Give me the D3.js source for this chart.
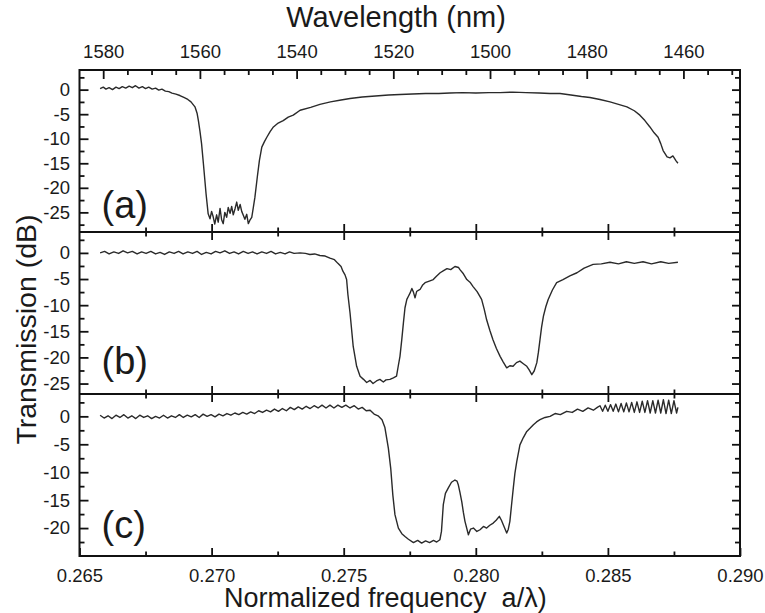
<!DOCTYPE html>
<html>
<head>
<meta charset="utf-8">
<script src="https://cdn.jsdelivr.net/npm/d3@7"></script>
<style>
  body { margin: 0; background: #fff; }
  svg text { font-family: "Liberation Sans", Arial, sans-serif; fill: #1a1a1a; }
</style>
</head>
<body>
<svg id="chart" width="765" height="613"></svg>
<script>
// tick values
var freqMajor = [0.265, 0.270, 0.275, 0.280, 0.285, 0.290];
var freqMinor = [0.2675, 0.2725, 0.2775, 0.2825, 0.2875];
var waveMajor = [1580, 1560, 1540, 1520, 1500, 1480, 1460];
var waveMinor = [1575, 1570, 1565, 1555, 1550, 1545, 1535, 1530, 1525, 1515, 1510, 1505,
                 1495, 1490, 1485, 1475, 1470, 1465, 1455, 1450];
var dbMajor = [0, -5, -10, -15, -20, -25];
var dbMinor = [2.5, -2.5, -7.5, -12.5, -17.5, -22.5, -27.5];

// transmission traces [normalized frequency, dB]
var transA = [
  [0.26578, 0.2], [0.26590, 0.5], [0.26600, 0.1], [0.26612, 0.4], [0.26625, 0.0], [0.26638, 0.5],
  [0.26650, 0.2], [0.26662, 0.6], [0.26675, 0.3], [0.26688, 0.7], [0.26700, 0.4], [0.26712, 0.8],
  [0.26725, 0.3], [0.26738, 0.6], [0.26750, 0.2], [0.26762, 0.5], [0.26775, 0.1], [0.26788, 0.3],
  [0.26800, -0.1], [0.26812, 0.1], [0.26825, -0.3], [0.26838, -0.4], [0.26850, -0.7], [0.26865, -0.9],
  [0.26880, -1.2], [0.26895, -1.6], [0.26910, -2.0], [0.26922, -2.5], [0.26937, -3.5], [0.26945, -4.8],
  [0.26950, -6.3], [0.26956, -8.5], [0.26962, -11.0], [0.26969, -15.1], [0.26979, -21.2], [0.26987, -25.3],
  [0.26994, -26.3], [0.27000, -24.8], [0.27006, -25.9], [0.27012, -27.4], [0.27019, -25.5], [0.27025, -27.0],
  [0.27032, -24.2], [0.27038, -26.5], [0.27044, -27.3], [0.27050, -25.0], [0.27057, -26.0], [0.27063, -24.0],
  [0.27070, -25.2], [0.27076, -23.8], [0.27082, -25.5], [0.27089, -24.2], [0.27095, -22.9], [0.27101, -24.6],
  [0.27108, -23.4], [0.27114, -24.8], [0.27120, -25.6], [0.27126, -26.4], [0.27133, -25.4], [0.27139, -27.3],
  [0.27145, -26.6], [0.27152, -26.0], [0.27158, -24.0], [0.27164, -21.9], [0.27173, -17.8], [0.27181, -14.4],
  [0.27190, -11.7], [0.27200, -10.6], [0.27209, -9.7], [0.27222, -8.5], [0.27234, -7.6], [0.27252, -6.8],
  [0.27271, -6.3], [0.27290, -5.6], [0.27309, -5.2], [0.27335, -4.2], [0.27375, -3.6], [0.27410, -3.0],
  [0.27450, -2.5], [0.27490, -2.1], [0.27524, -1.8], [0.27570, -1.5], [0.27620, -1.3], [0.27670, -1.1],
  [0.27713, -1.0], [0.27760, -0.9], [0.27810, -0.8], [0.27860, -0.8], [0.27902, -0.7], [0.27950, -0.6],
  [0.28000, -0.7], [0.28050, -0.6], [0.28092, -0.6], [0.28140, -0.5], [0.28190, -0.6], [0.28240, -0.7],
  [0.28281, -0.8], [0.28319, -0.8], [0.28360, -1.1], [0.28400, -1.4], [0.28432, -1.6], [0.28470, -2.0],
  [0.28508, -2.5], [0.28540, -3.0], [0.28572, -3.5], [0.28600, -4.3], [0.28621, -5.2], [0.28640, -6.3],
  [0.28659, -7.6], [0.28675, -8.8], [0.28690, -9.7], [0.28700, -11.0], [0.28709, -12.4], [0.28724, -13.7],
  [0.28735, -13.9], [0.28746, -13.5], [0.28758, -14.5], [0.28765, -15.0]
];

var transB = [
  [0.26578, 0.0], [0.26595, 0.3], [0.26612, -0.2], [0.26630, 0.2], [0.26648, -0.1], [0.26665, 0.4],
  [0.26682, 0.0], [0.26700, 0.3], [0.26718, -0.2], [0.26735, 0.2], [0.26752, -0.1], [0.26770, 0.3],
  [0.26788, -0.2], [0.26805, 0.1], [0.26822, -0.3], [0.26840, 0.2], [0.26858, -0.1], [0.26875, 0.3],
  [0.26892, -0.2], [0.26910, 0.2], [0.26928, -0.1], [0.26945, 0.3], [0.26962, -0.3], [0.26980, 0.1],
  [0.26998, -0.2], [0.27015, 0.3], [0.27032, 0.0], [0.27050, 0.4], [0.27068, -0.1], [0.27085, 0.2],
  [0.27102, -0.2], [0.27120, 0.3], [0.27138, -0.1], [0.27155, 0.2], [0.27172, -0.2], [0.27190, 0.2],
  [0.27208, -0.1], [0.27225, 0.3], [0.27242, -0.2], [0.27260, 0.1], [0.27278, -0.2], [0.27295, 0.2],
  [0.27312, -0.1], [0.27335, 0.0], [0.27355, -0.1], [0.27372, -0.3], [0.27390, -0.2], [0.27410, -0.5],
  [0.27430, -0.6], [0.27448, -1.0], [0.27465, -1.3], [0.27478, -2.0], [0.27490, -2.6], [0.27497, -3.5],
  [0.27505, -4.2], [0.27511, -5.1], [0.27516, -8.0], [0.27524, -11.5], [0.27536, -17.9], [0.27549, -21.7],
  [0.27562, -23.6], [0.27575, -24.2], [0.27587, -24.8], [0.27600, -24.4], [0.27611, -25.0], [0.27624, -24.5],
  [0.27637, -24.2], [0.27650, -24.7], [0.27660, -24.3], [0.27675, -24.2], [0.27688, -23.9], [0.27700, -23.6],
  [0.27707, -21.5], [0.27713, -19.8], [0.27720, -16.5], [0.27726, -13.4], [0.27732, -10.5], [0.27739, -8.9],
  [0.27745, -8.3], [0.27751, -7.7], [0.27758, -6.8], [0.27764, -7.5], [0.27770, -8.6], [0.27776, -7.4],
  [0.27781, -7.2], [0.27789, -7.0], [0.27798, -6.2], [0.27808, -5.7], [0.27824, -5.4], [0.27839, -5.1],
  [0.27852, -4.4], [0.27865, -3.8], [0.27878, -3.4], [0.27891, -3.0], [0.27905, -3.2], [0.27921, -2.6],
  [0.27935, -2.8], [0.27940, -3.2], [0.27953, -4.0], [0.27966, -5.1], [0.27978, -5.6], [0.27989, -6.4],
  [0.28005, -7.4], [0.28022, -8.9], [0.28032, -10.8], [0.28041, -12.8], [0.28053, -14.8], [0.28065, -16.6],
  [0.28078, -18.3], [0.28092, -19.8], [0.28104, -20.9], [0.28117, -22.0], [0.28129, -21.6], [0.28141, -21.7],
  [0.28154, -21.0], [0.28167, -20.7], [0.28180, -21.2], [0.28193, -21.7], [0.28202, -22.4], [0.28212, -23.3],
  [0.28221, -22.6], [0.28231, -21.0], [0.28237, -19.0], [0.28243, -16.6], [0.28249, -14.2], [0.28256, -12.1],
  [0.28265, -10.3], [0.28274, -8.9], [0.28290, -7.1], [0.28306, -5.7], [0.28330, -5.1], [0.28356, -4.4],
  [0.28383, -3.8], [0.28410, -2.9], [0.28444, -2.2], [0.28475, -2.1], [0.28508, -1.8], [0.28540, -2.1],
  [0.28570, -1.7], [0.28600, -2.0], [0.28633, -1.7], [0.28665, -2.1], [0.28700, -1.7], [0.28730, -2.0],
  [0.28765, -1.8]
];

var transC = [
  [0.26578, 0.2], [0.26593, -0.3], [0.26608, 0.1], [0.26623, -0.4], [0.26638, 0.2], [0.26653, -0.2],
  [0.26668, 0.3], [0.26683, -0.3], [0.26698, 0.1], [0.26713, -0.4], [0.26728, 0.2], [0.26743, -0.2],
  [0.26758, 0.1], [0.26773, -0.4], [0.26788, 0.0], [0.26803, -0.3], [0.26818, 0.2], [0.26833, -0.3],
  [0.26848, 0.1], [0.26863, -0.2], [0.26878, 0.3], [0.26893, -0.2], [0.26908, 0.2], [0.26923, -0.1],
  [0.26938, 0.3], [0.26953, -0.2], [0.26968, 0.4], [0.26983, 0.0], [0.26998, 0.3], [0.27013, -0.1],
  [0.27028, 0.4], [0.27043, 0.1], [0.27058, 0.5], [0.27073, 0.2], [0.27088, 0.6], [0.27103, 0.3],
  [0.27118, 0.7], [0.27133, 0.4], [0.27148, 0.8], [0.27163, 0.5], [0.27178, 1.0], [0.27193, 0.7],
  [0.27208, 1.1], [0.27223, 0.8], [0.27238, 1.3], [0.27253, 0.9], [0.27268, 1.4], [0.27283, 1.0],
  [0.27298, 1.6], [0.27313, 1.2], [0.27328, 1.7], [0.27343, 1.3], [0.27358, 1.8], [0.27373, 1.4],
  [0.27388, 1.9], [0.27403, 1.5], [0.27418, 2.0], [0.27433, 1.5], [0.27448, 2.0], [0.27463, 1.5],
  [0.27478, 2.0], [0.27493, 1.6], [0.27508, 2.0], [0.27524, 1.5], [0.27540, 1.9], [0.27555, 1.3],
  [0.27570, 1.6], [0.27585, 1.0], [0.27600, 1.1], [0.27615, 0.4], [0.27630, 0.1], [0.27645, -0.6],
  [0.27656, -2.0], [0.27669, -5.7], [0.27678, -9.3], [0.27686, -14.1], [0.27694, -17.6], [0.27707, -20.0],
  [0.27720, -21.0], [0.27732, -21.5], [0.27745, -22.0], [0.27764, -22.6], [0.27780, -22.2], [0.27795, -22.7],
  [0.27810, -22.3], [0.27825, -22.6], [0.27840, -22.2], [0.27852, -22.5], [0.27864, -22.1], [0.27870, -20.6],
  [0.27877, -15.8], [0.27885, -13.8], [0.27896, -12.8], [0.27908, -11.8], [0.27921, -11.4], [0.27929, -11.6],
  [0.27934, -12.3], [0.27940, -13.6], [0.27947, -15.3], [0.27953, -17.2], [0.27959, -18.8], [0.27972, -21.2],
  [0.27980, -20.2], [0.27991, -20.0], [0.28004, -20.6], [0.28016, -20.3], [0.28029, -19.7], [0.28041, -20.0],
  [0.28053, -19.5], [0.28066, -19.1], [0.28077, -18.6], [0.28089, -17.9], [0.28097, -18.6], [0.28104, -19.4],
  [0.28117, -20.9], [0.28123, -20.2], [0.28129, -18.8], [0.28135, -16.0], [0.28142, -12.8], [0.28148, -10.2],
  [0.28155, -8.1], [0.28167, -5.1], [0.28180, -3.8], [0.28193, -2.7], [0.28206, -2.1], [0.28218, -1.5],
  [0.28230, -1.0], [0.28243, -0.6], [0.28262, -0.2], [0.28281, 0.0], [0.28300, 0.5], [0.28320, 0.3],
  [0.28344, 0.9], [0.28365, 0.7], [0.28385, 1.3], [0.28405, 0.9], [0.28425, 1.5], [0.28445, 1.1],
  [0.28460, 1.6], [0.28470, 1.9], [0.28480, 0.9], [0.28490, 2.0], [0.28500, 0.9], [0.28510, 2.1],
  [0.28520, 0.9], [0.28530, 2.2], [0.28540, 0.8], [0.28550, 2.3], [0.28560, 0.8], [0.28570, 2.4],
  [0.28580, 0.8], [0.28590, 2.5], [0.28600, 0.7], [0.28610, 2.6], [0.28620, 0.7], [0.28630, 2.7],
  [0.28640, 0.7], [0.28650, 2.8], [0.28660, 0.6], [0.28670, 2.8], [0.28680, 0.6], [0.28690, 2.9],
  [0.28700, 0.6], [0.28710, 3.0], [0.28720, 0.5], [0.28730, 2.9], [0.28740, 0.5], [0.28750, 2.8],
  [0.28760, 0.6], [0.28765, 1.6]
];

var panelLabels = ["(a)", "(b)", "(c)"];
var panelRanges = [[-29, 4], [-27, 4], [-25, 4]];

var plotLeft = 79.5, plotRight = 740, plotTop = 70, ph = 162;

var svg = d3.select("#chart");
var x = d3.scaleLinear().domain([0.265, 0.290]).range([plotLeft, plotRight]);
var xw = d3.scaleLinear().domain([1584.9, 1448.3]).range([plotLeft, plotRight]);

function styleAxis(g) {
  g.select(".domain").remove();
  g.selectAll(".tick line").attr("stroke", "#111").attr("stroke-width", 1.8);
  g.selectAll(".tick text").attr("fill", "#1a1a1a").style("font-size", "18.5px")
    .style("font-family", "'Liberation Sans', Arial, sans-serif");
}

var panels = [transA, transB, transC].map(function (d, i) {
  return { data: d, label: panelLabels[i], domain: panelRanges[i], y0: plotTop + i * ph };
});

panels.forEach(function (p, i) {
  var y = d3.scaleLinear().domain(p.domain).range([p.y0 + ph, p.y0]);
  var yMaj = dbMajor.filter(function (v) { return v > p.domain[0] && v < p.domain[1]; });
  var yMin = dbMinor.filter(function (v) { return v > p.domain[0] && v < p.domain[1]; });

  // left axis
  svg.append("g").attr("transform", "translate(" + plotLeft + ",0)")
    .call(d3.axisLeft(y).tickValues(yMaj).tickSize(-9).tickPadding(9.5).tickFormat(function (v) { return String(v); }))
    .call(styleAxis);
  svg.append("g").attr("transform", "translate(" + plotLeft + ",0)")
    .call(d3.axisLeft(y).tickValues(yMin).tickSize(-5).tickFormat(""))
    .call(styleAxis);
  // right axis
  svg.append("g").attr("transform", "translate(" + plotRight + ",0)")
    .call(d3.axisRight(y).tickValues(yMaj).tickSize(-8).tickFormat(""))
    .call(styleAxis);
  svg.append("g").attr("transform", "translate(" + plotRight + ",0)")
    .call(d3.axisRight(y).tickValues(yMin).tickSize(-5).tickFormat(""))
    .call(styleAxis);

  // top edge
  if (i === 0) {
    svg.append("g").attr("transform", "translate(0," + p.y0 + ")")
      .call(d3.axisTop(xw).tickValues(waveMajor).tickSize(-9).tickPadding(11.7).tickFormat(function (v) { return String(v); }))
      .call(styleAxis);
    svg.append("g").attr("transform", "translate(0," + p.y0 + ")")
      .call(d3.axisTop(xw).tickValues(waveMinor).tickSize(-5).tickFormat(""))
      .call(styleAxis);
  } else {
    svg.append("g").attr("transform", "translate(0," + p.y0 + ")")
      .call(d3.axisTop(x).tickValues(freqMajor.slice(1, -1)).tickSize(-8).tickFormat(""))
      .call(styleAxis);
    svg.append("g").attr("transform", "translate(0," + p.y0 + ")")
      .call(d3.axisTop(x).tickValues(freqMinor).tickSize(-4.5).tickFormat(""))
      .call(styleAxis);
  }

  // bottom edge
  var last = i === panels.length - 1;
  svg.append("g").attr("transform", "translate(0," + (p.y0 + ph) + ")")
    .call(d3.axisBottom(x).tickValues(last ? freqMajor : freqMajor.slice(1, -1))
      .tickSize(-8).tickPadding(13)
      .tickFormat(last ? d3.format(".3f") : ""))
    .call(styleAxis);
  svg.append("g").attr("transform", "translate(0," + (p.y0 + ph) + ")")
    .call(d3.axisBottom(x).tickValues(freqMinor).tickSize(-4.5).tickFormat(""))
    .call(styleAxis);

  // trace
  var line = d3.line().x(function (d) { return x(d[0]); }).y(function (d) { return y(d[1]); });
  svg.append("path").datum(p.data)
    .attr("d", line)
    .attr("fill", "none")
    .attr("stroke", "#2a2a2a")
    .attr("stroke-width", 1.4)
    .attr("stroke-linejoin", "round");

  var labelY = [218, 374, 537.5];
  svg.append("text")
    .attr("x", 101.5).attr("y", labelY[i])
    .style("font-size", "38px")
    .text(p.label);
});

// frame and separators
svg.append("rect")
  .attr("x", plotLeft).attr("y", plotTop).attr("width", plotRight - plotLeft).attr("height", ph * 3)
  .attr("fill", "none").attr("stroke", "#111").attr("stroke-width", 2);
[1, 2].forEach(function (k) {
  svg.append("line")
    .attr("x1", plotLeft).attr("x2", plotRight)
    .attr("y1", plotTop + k * ph).attr("y2", plotTop + k * ph)
    .attr("stroke", "#111").attr("stroke-width", 2);
});

// titles
svg.append("text")
  .attr("x", 396).attr("y", 27)
  .attr("text-anchor", "middle")
  .style("font-size", "29px")
  .text("Wavelength (nm)");

svg.append("text")
  .attr("x", 224).attr("y", 606.5)
  .style("font-size", "27px")
  .style("white-space", "pre")
  .text("Normalized frequency  a/\u03bb)");

svg.append("text")
  .attr("transform", "rotate(-90)")
  .attr("x", -329.5).attr("y", 36)
  .attr("text-anchor", "middle")
  .style("font-size", "28.5px")
  .text("Transmission (dB)");
</script>
</body>
</html>
